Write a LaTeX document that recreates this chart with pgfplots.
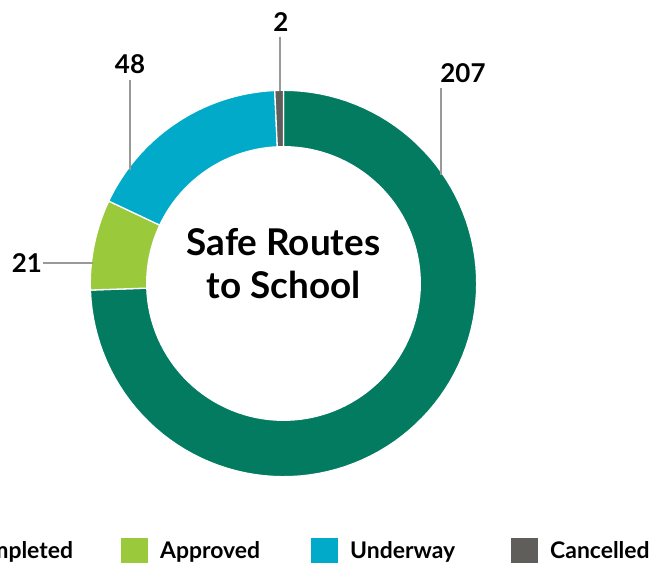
\documentclass[border=0pt]{standalone}
\usepackage{pgfplots}
\pgfplotsset{compat=1.18}
\usepackage{pgfplotstable}
\usepackage{fontspec}
\setmainfont{Lato}

\definecolor{cCompleted}{HTML}{037B61}
\definecolor{cApproved}{HTML}{9AC93C}
\definecolor{cUnderway}{HTML}{00AAC8}
\definecolor{cCancelled}{HTML}{5F5E5A}
\definecolor{leader}{HTML}{999999}

\pgfplotstableread{
status value
Completed 207
Approved 21
Underway 48
Cancelled 2
}\projects

% ring geometry, in picture pixels
\def\cx{283.5}
\def\cy{279.5}
\def\Ro{193.2}
\def\Ri{136.8}

% one ring segment: start angle, end angle, colour
\newcommand\ringseg[3]{%
  \addplot[fill=#3, draw=white, line width=1.3bp, domain=0:2, samples=201, variable=\t]
    ({\cx+((\t<1)?\Ro:\Ri)*cos((\t<1)?((#1)+((#2)-(#1))*min(\t/0.98,1)):((#2)+((#1)-(#2))*min((\t-1)/0.98,1)))},
     {\cy+((\t<1)?\Ro:\Ri)*sin((\t<1)?((#1)+((#2)-(#1))*min(\t/0.98,1)):((#2)+((#1)-(#2))*min((\t-1)/0.98,1)))})
    -- cycle;
}

\begin{document}
\begin{tikzpicture}
\pgfplotstablegetelem{0}{value}\of\projects \edef\vA{\pgfplotsretval}
\pgfplotstablegetelem{1}{value}\of\projects \edef\vB{\pgfplotsretval}
\pgfplotstablegetelem{2}{value}\of\projects \edef\vC{\pgfplotsretval}
\pgfplotstablegetelem{3}{value}\of\projects \edef\vD{\pgfplotsretval}
\pgfmathsetmacro\tot{\vA+\vB+\vC+\vD}
\pgfmathsetmacro\aA{90}
\pgfmathsetmacro\aB{\aA-360*(\vA/\tot)}
\pgfmathsetmacro\aC{\aB-360*(\vB/\tot)}
\pgfmathsetmacro\aD{\aC-360*(\vC/\tot)}
\pgfmathsetmacro\aE{\aD-360*(\vD/\tot)}

\useasboundingbox (0,0) rectangle (652bp,563bp);
\begin{axis}[
    at={(0,0)}, anchor=south west,
    scale only axis, width=652bp, height=563bp,
    xmin=0, xmax=652, ymin=0, ymax=563,
    hide axis, clip=false,
]
\ringseg{\aA}{\aB}{cCompleted}
\ringseg{\aB}{\aC}{cApproved}
\ringseg{\aC}{\aD}{cUnderway}
\ringseg{\aD}{\aE}{cCancelled}

% leader lines and value labels
\draw[leader, line width=1.3bp] (axis cs:441,475) -- (axis cs:441,388);
\draw[leader, line width=1.3bp] (axis cs:130,483) -- (axis cs:130,393);
\draw[leader, line width=1.3bp] (axis cs:280,526) -- (axis cs:280,472);
\draw[leader, line width=1.3bp] (axis cs:43,300) -- (axis cs:93,300);
\begin{scope}[every node/.style={font=\fontsize{26}{30}\selectfont\bfseries, inner sep=0pt}]
\node at (axis cs:463,490) {\vA};
\node at (axis cs:130,499) {\vC};
\node at (axis cs:281,541) {\vD};
\node at (axis cs:27,300) {\vB};
\end{scope}

\node[font=\fontsize{37}{43}\selectfont\bfseries, align=center, inner sep=0pt]
    at (axis cs:283.5,299) {Safe Routes\\to School};

% legend
\begin{scope}[every node/.style={font=\fontsize{23}{27}\selectfont\bfseries, inner sep=0pt, anchor=base west}]
\fill[cCompleted] (axis cs:-77,-1) rectangle (axis cs:-50,25);
\node at (axis cs:-39,5) {Completed};
\fill[cApproved] (axis cs:121,-1) rectangle (axis cs:148,25);
\node at (axis cs:160,5) {Approved};
\fill[cUnderway] (axis cs:311,-1) rectangle (axis cs:338,25);
\node at (axis cs:350,5) {Underway};
\fill[cCancelled] (axis cs:511,-1) rectangle (axis cs:538,25);
\node at (axis cs:550,5) {Cancelled};
\end{scope}
\end{axis}
\end{tikzpicture}
\end{document}
